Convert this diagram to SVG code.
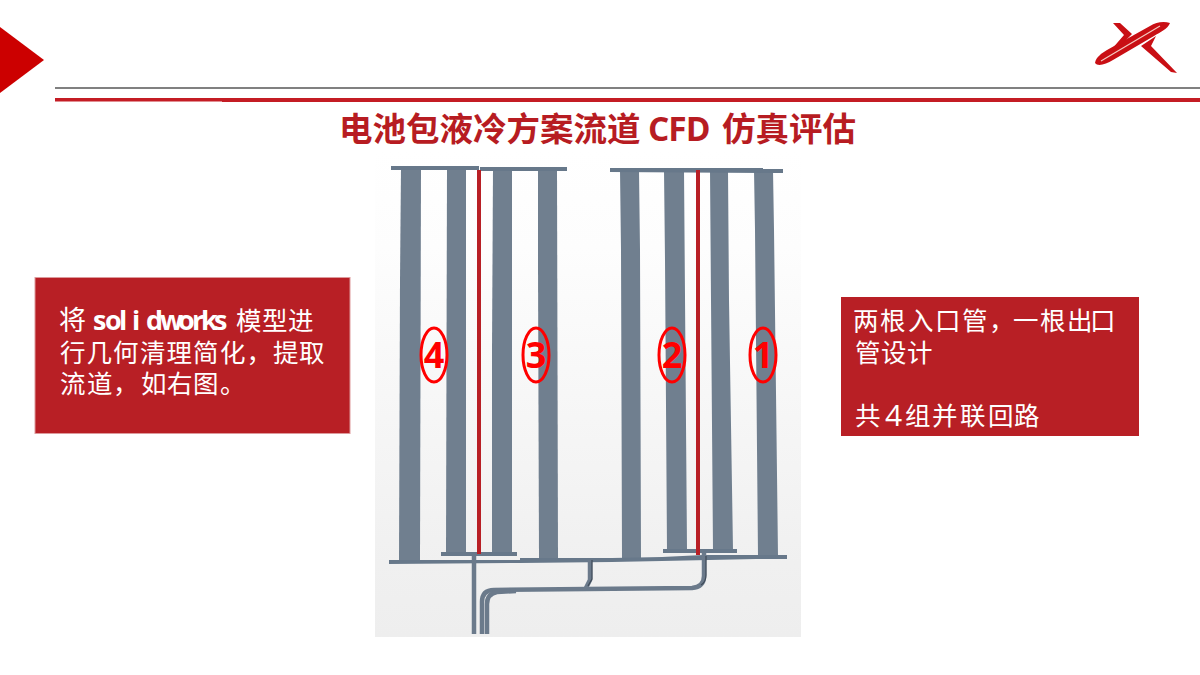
<svg xmlns="http://www.w3.org/2000/svg" width="1200" height="675" viewBox="0 0 1200 675">
<style>
.cjk{font-family:"Open Sans","Noto Sans CJK SC","Noto Sans",sans-serif;fill:#fff;font-size:25.5px}
.big{font-size:27px}
.bar{fill:#707f8f}
.man{fill:#67788a}
.red{fill:#b81f25}
.pipe{fill:none;stroke:#6b7a8b;stroke-width:4.5}
.dark{fill:none;stroke:#3e4a58;stroke-width:1.2}
.ring{fill:none;stroke:#f00;stroke-width:3}
.num{font-family:"Open Sans","Noto Sans",sans-serif;font-weight:700;font-size:36px;fill:#f00;text-anchor:middle}
</style>
<defs>
<linearGradient id="bg" x1="0" y1="0" x2="0" y2="1">
<stop offset="0" stop-color="#fff"/><stop offset=".2" stop-color="#fdfdfd"/><stop offset=".85" stop-color="#f0f0f0"/><stop offset="1" stop-color="#eee"/>
</linearGradient>
</defs>
<rect width="1200" height="675" fill="#fff"/>
<g id="header">
<polygon points="0,27 44,60 0,93" fill="#c00"/>
<rect x="55" y="87" width="1145" height="2" fill="#808080"/>
<rect x="55" y="98" width="167" height="3.5" fill="#c41c24"/>
<rect x="222" y="98" width="978" height="4" fill="#c41c24"/>
</g>
<g id="logo">
<path d="M1095 63C1096 57 1102 53 1107 50L1150 26C1156 22 1164 21 1170 23C1168 29 1160 32 1154 36L1113 60C1106 64 1098 67 1095 63Z" fill="#c90f14"/>
<path d="M1101 61L1160 26" fill="none" stroke="#f4c9c0" stroke-width="1.2"/>
<path d="M1113 23L1120 23L1132 34L1119 47L1111 50L1124 35Z" fill="#c90f14"/>
<path d="M1141 46L1156 36L1151 46L1177 73L1171 72Z" fill="#c90f14"/>
</g>
<text id="title" y="141" font-size="33.500" font-weight="700" fill="#b71c22" font-family="'Open Sans','Noto Sans CJK SC',sans-serif"><tspan x="339">电池包液冷方案流道</tspan><tspan x="648" letter-spacing="-1">CFD</tspan><tspan x="722">仿真评估</tspan></text>
<g id="model">
<rect x="375" y="150" width="426" height="487" fill="url(#bg)"/>
<g id="bars">
<polygon class="bar" points="401,168 421,168 420,560 399,560 400,280 "/>
<polygon class="bar" points="447,168 466,168 466,553 446,553"/>
<polygon class="bar" points="493,168 512,168 512,553 492,553 492,350"/>
<polygon class="bar" points="538,168 557,168 558,558 539,558 538,265"/>
<polygon class="bar" points="620,170 639,170 640,250 641,558 622,558 621,250"/>
<polygon class="bar" points="664,170 684,170 687,550 667,550 665,260"/>
<polygon class="bar" points="710,170 728,170 729,300 733,550 713,550 711,300"/>
<polygon class="bar" points="754,170 773,170 774,230 778,556 758,556 755,230"/>
</g>
<g id="manifolds">
<rect class="man" x="391" y="166" width="88" height="4"/>
<rect class="man" x="480" y="167" width="87" height="4"/>
<polygon class="man" points="610,168 763,168 763,169 783,169 783,173 610,172"/>
<rect class="man" x="441" y="552" width="76" height="4"/>
<rect class="man" x="663" y="549" width="74" height="4"/>
<polygon class="man" points="389,560 520,560 520,558 612,558 662,557 703,555 787,555 787,559 756,559 662,561 612,562 520,563 389,564"/>
</g>
<g id="pipes">
<path class="pipe" d="M474 556V634"/>
<path class="pipe" d="M482 634V602Q482 590 494 590L692 588Q704 587 704 576V553"/>
<path class="pipe" d="M487 634V604Q487 594 497 592L516 591"/>
<path class="pipe" d="M590 560V580L586 588"/>
<path class="dark" d="M706 556V575Q706 582 701 585"/>
<path class="dark" d="M592 560V579L588 586"/>
</g>
<rect class="red" x="477" y="170" width="4" height="384"/>
<rect class="red" x="696" y="170" width="4" height="385"/>
</g>
<g id="numbers">
<ellipse class="ring" cx="434" cy="355" rx="13" ry="27"/><text class="num" x="434" y="368">4</text>
<ellipse class="ring" cx="536" cy="355" rx="13" ry="27"/><text class="num" x="536" y="368">3</text>
<ellipse class="ring" cx="672" cy="355" rx="13" ry="27"/><text class="num" x="672" y="368">2</text>
<ellipse class="ring" cx="763" cy="355" rx="13" ry="27"/><text class="num" x="763" y="368">1</text>
</g>
<g id="left-box">
<rect x="35" y="277.500" width="315" height="156" class="red" stroke="#dd9a9c" stroke-width="1"/>
<text class="cjk big" y="330" x="59">将</text>
<text class="cjk big" y="330" font-weight="700" x="93 105 119 132 146 160 178 192 201 214">solidworks</text>
<text class="cjk" y="330" x="236 262 288">模型进</text>
<text class="cjk" y="362" x="60 86.500 113 140 166.500 193 220 246.500 273 299">行几何清理简化，提取</text>
<text class="cjk" y="393" x="60 87 113 141 167 193 220">流道，如右图。</text>
</g>
<g id="right-box">
<rect x="841" y="297" width="298" height="139" class="red"/>
<text class="cjk" y="330" x="853 880 908 935 962 989 1013 1040 1067 1090">两根入口管，一根出口</text>
<text class="cjk" y="362" x="855 881 907">管设计</text>
<text class="cjk" y="425" x="855">共</text>
<text class="cjk" y="426" x="885" font-size="30" style="font-size:30px">4</text>
<text class="cjk" y="425" x="905 932 960 988 1014">组并联回路</text>
</g>
</svg>
